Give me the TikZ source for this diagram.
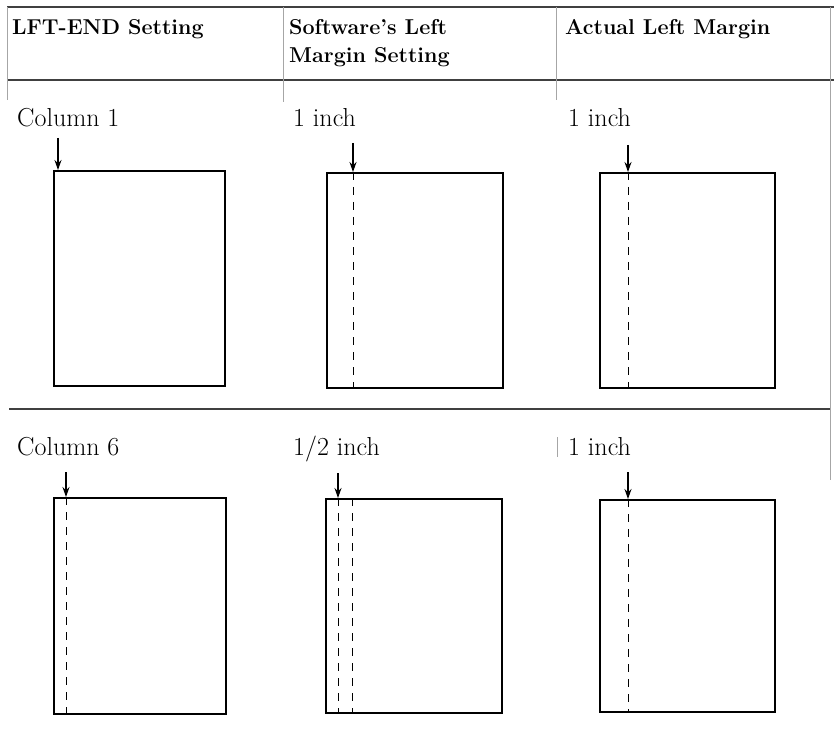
\documentclass[tikz,border=0pt]{standalone}
\usepackage{tikz}
\usetikzlibrary{arrows.meta}

\begin{document}
\begin{tikzpicture}[x=1pt, y=-1pt,
    rule/.style={draw=black!75, line width=1.5pt},
    sep/.style={draw=black!35, line width=0.6pt},
    head/.style={anchor=base west, inner sep=0pt, font=\fontsize{21.5}{26}\selectfont\bfseries},
    lbl/.style={anchor=base west, inner sep=0pt, font=\fontsize{26}{30}\selectfont},
    page/.style={draw, rectangle, line width=2pt, inner sep=0pt},
    pointer/.style={-{Stealth[length=10pt,width=7pt]}, line width=1.2pt},
    margin/.style={line width=1pt, dash pattern=on 8pt off 7pt}]
  \useasboundingbox (0,0) rectangle (834,735);
  % table rules
  \draw[rule] (7,7) -- (834,7);
  \draw[rule] (7,80) -- (834,80);
  \draw[rule] (9,409) -- (830,409);
  \draw[sep] (7,7) -- (7,100);
  \draw[sep] (283,7) -- (283,102);
  \draw[sep] (556,7) -- (556,100);
  \draw[sep] (557,437) -- (557,457);
  \draw[sep] (830,7) -- (830,480);
  % headings
  \node[head] (hLft) at (12,35) {LFT-END Setting};
  \node[head] (hSoft) at (289,35) {Software's Left};
  \node[head] (hSoft2) at (289,63) {Margin Setting};
  \node[head] (hAct) at (565,35) {Actual Left Margin};
  % row 1
  \node[lbl] (lCol1) at (17,127) {Column 1};
  \node[lbl] (lSoft1) at (293,127) {1 inch};
  \node[lbl] (lAct1) at (568,127) {1 inch};
  \node[page, minimum width=171pt, minimum height=215pt] (pgA1) at (139.5,278.5) {};
  \node[page, minimum width=176pt, minimum height=215pt] (pgB1) at (415,280.5) {};
  \node[page, minimum width=175pt, minimum height=215pt] (pgC1) at (687.5,280.5) {};
  \coordinate (tA1) at (58,138);
  \coordinate (tB1) at (353,143);
  \coordinate (tC1) at (628,145);
  \draw[pointer] (tA1) -- (tA1 |- pgA1.north);
  \draw[pointer] (tB1) -- (tB1 |- pgB1.north);
  \draw[pointer] (tC1) -- (tC1 |- pgC1.north);
  \draw[margin] (tB1 |- pgB1.north) -- (tB1 |- pgB1.south);
  \draw[margin] (tC1 |- pgC1.north) -- (tC1 |- pgC1.south);
  % row 2
  \node[lbl] (lCol6) at (17,455) {Column 6};
  \node[lbl] (lSoft2) at (293,455) {1/2 inch};
  \node[lbl] (lAct2) at (568,455) {1 inch};
  \node[page, minimum width=172pt, minimum height=216pt] (pgA2) at (140,606) {};
  \node[page, minimum width=176pt, minimum height=214pt] (pgB2) at (414,606) {};
  \node[page, minimum width=175pt, minimum height=212pt] (pgC2) at (687.5,606) {};
  \coordinate (tA2) at (66,472);
  \coordinate (tB2) at (338,473);
  \coordinate (tC2) at (628,472);
  \coordinate (dB2) at (352,473);
  \draw[pointer] (tA2) -- (tA2 |- pgA2.north);
  \draw[pointer] (tB2) -- (tB2 |- pgB2.north);
  \draw[pointer] (tC2) -- (tC2 |- pgC2.north);
  \draw[margin] (tA2 |- pgA2.north) -- (tA2 |- pgA2.south);
  \draw[margin] (tB2 |- pgB2.north) -- (tB2 |- pgB2.south);
  \draw[margin] (dB2 |- pgB2.north) -- (dB2 |- pgB2.south);
  \draw[margin] (tC2 |- pgC2.north) -- (tC2 |- pgC2.south);
\end{tikzpicture}
\end{document}
